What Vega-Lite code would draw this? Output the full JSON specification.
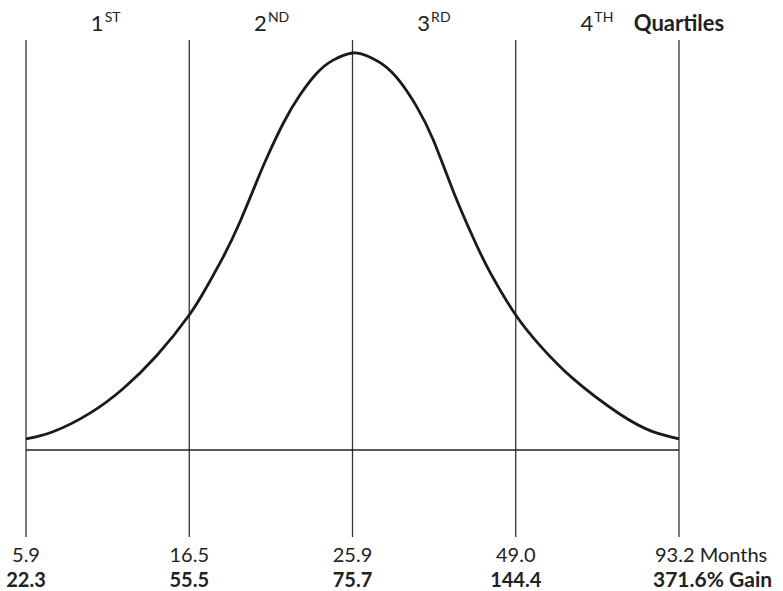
{
  "$schema": "https://vega.github.io/schema/vega-lite/v6.json",
  "width": 783,
  "height": 591,
  "autosize": {"type": "fit", "contains": "padding"},
  "padding": 0,
  "background": "white",
  "config": {"view": {"stroke": null}, "text": {"font": "Lato", "color": "#222"}},
  "datasets": {
    "curve": [
      {"q": 0, "d": 0.028}, {"q": 0.165, "d": 0.046}, {"q": 0.392, "d": 0.093}, {"q": 0.596, "d": 0.155},
      {"q": 0.801, "d": 0.238}, {"q": 1.0, "d": 0.34}, {"q": 1.107, "d": 0.411}, {"q": 1.209, "d": 0.487},
      {"q": 1.311, "d": 0.575}, {"q": 1.413, "d": 0.676}, {"q": 1.474, "d": 0.735}, {"q": 1.576, "d": 0.823},
      {"q": 1.678, "d": 0.894}, {"q": 1.781, "d": 0.949}, {"q": 1.882, "d": 0.982}, {"q": 2.0, "d": 1.0},
      {"q": 2.087, "d": 0.993}, {"q": 2.189, "d": 0.97}, {"q": 2.291, "d": 0.928}, {"q": 2.393, "d": 0.865},
      {"q": 2.495, "d": 0.781}, {"q": 2.617, "d": 0.652}, {"q": 2.74, "d": 0.534}, {"q": 2.842, "d": 0.448},
      {"q": 3.0, "d": 0.34}, {"q": 3.149, "d": 0.263}, {"q": 3.353, "d": 0.179}, {"q": 3.639, "d": 0.09},
      {"q": 3.835, "d": 0.047}, {"q": 4.0, "d": 0.028}
    ],
    "bounds": [
      {"q": 0, "months": "5.9", "gain": "22.3", "end": false},
      {"q": 1, "months": "16.5", "gain": "55.5", "end": false},
      {"q": 2, "months": "25.9", "gain": "75.7", "end": false},
      {"q": 3, "months": "49.0", "gain": "144.4", "end": false},
      {"q": 4, "months": "93.2 Months", "gain": "371.6% Gain", "end": true}
    ],
    "quartiles": [
      {"mid": 0.5, "num": "1", "suffix": "ST"},
      {"mid": 1.5, "num": "2", "suffix": "ND"},
      {"mid": 2.5, "num": "3", "suffix": "RD"},
      {"mid": 3.5, "num": "4", "suffix": "TH"}
    ]
  },
  "encoding": {
    "x": {"type": "quantitative", "scale": {"domain": [-0.1593, 4.6371], "nice": false, "zero": false}, "axis": null},
    "y": {"type": "quantitative", "scale": {"domain": [-0.3552, 1.1335], "nice": false, "zero": false}, "axis": null}
  },
  "layer": [
    {
      "data": {"name": "bounds"},
      "mark": {"type": "rule", "stroke": "#333", "strokeWidth": 1.3},
      "encoding": {"x": {"field": "q"}, "y": {"datum": 1.033}, "y2": {"datum": -0.219}}
    },
    {
      "data": {"name": "bounds"},
      "transform": [{"filter": "datum.q == 0"}],
      "mark": {"type": "rule", "stroke": "#222", "strokeWidth": 1.5},
      "encoding": {"x": {"datum": 0}, "x2": {"datum": 4}, "y": {"datum": 0}}
    },
    {
      "data": {"name": "curve"},
      "mark": {"type": "line", "stroke": "#1a1a1a", "strokeWidth": 2.8, "interpolate": "natural"},
      "encoding": {"x": {"field": "q"}, "y": {"field": "d"}}
    },
    {
      "data": {"name": "quartiles"},
      "mark": {"type": "text", "align": "right", "baseline": "alphabetic", "fontSize": 22, "dx": -4},
      "encoding": {"x": {"field": "mid"}, "y": {"datum": 1.055}, "text": {"field": "num"}}
    },
    {
      "data": {"name": "quartiles"},
      "mark": {"type": "text", "align": "left", "baseline": "alphabetic", "fontSize": 14, "dx": -3},
      "encoding": {"x": {"field": "mid"}, "y": {"datum": 1.079}, "text": {"field": "suffix"}}
    },
    {
      "data": {"name": "bounds"},
      "transform": [{"filter": "datum.end"}],
      "mark": {"type": "text", "align": "center", "baseline": "alphabetic", "fontSize": 22, "fontWeight": "bold"},
      "encoding": {"x": {"field": "q"}, "y": {"datum": 1.055}, "text": {"value": "Quartiles"}}
    },
    {
      "data": {"name": "bounds"},
      "transform": [{"filter": "!datum.end"}],
      "mark": {"type": "text", "align": "center", "baseline": "alphabetic", "fontSize": 20},
      "encoding": {"x": {"field": "q"}, "y": {"datum": -0.281}, "text": {"field": "months"}}
    },
    {
      "data": {"name": "bounds"},
      "transform": [{"filter": "!datum.end"}],
      "mark": {"type": "text", "align": "center", "baseline": "alphabetic", "fontSize": 20, "fontWeight": "bold"},
      "encoding": {"x": {"field": "q"}, "y": {"datum": -0.345}, "text": {"field": "gain"}}
    },
    {
      "data": {"name": "bounds"},
      "transform": [{"filter": "datum.end"}],
      "mark": {"type": "text", "align": "left", "baseline": "alphabetic", "fontSize": 20, "dx": -24},
      "encoding": {"x": {"field": "q"}, "y": {"datum": -0.281}, "text": {"field": "months"}}
    },
    {
      "data": {"name": "bounds"},
      "transform": [{"filter": "datum.end"}],
      "mark": {"type": "text", "align": "left", "baseline": "alphabetic", "fontSize": 21, "fontWeight": "bold", "dx": -26},
      "encoding": {"x": {"field": "q"}, "y": {"datum": -0.345}, "text": {"field": "gain"}}
    }
  ]
}
